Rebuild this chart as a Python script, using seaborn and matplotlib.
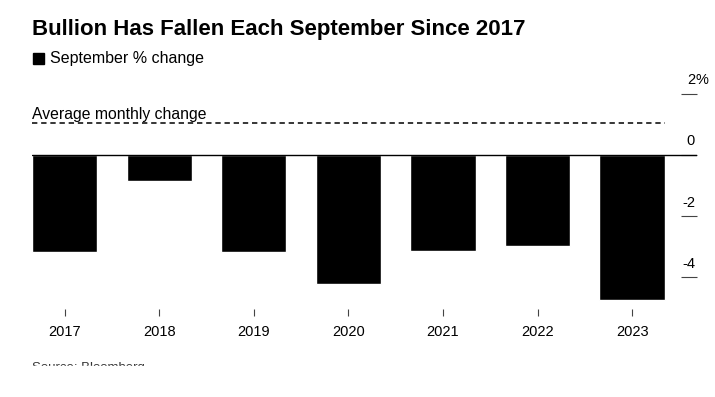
import matplotlib
matplotlib.use("Agg")
import matplotlib.pyplot as plt
import matplotlib.transforms as mtransforms
from matplotlib.patches import Rectangle
import seaborn as sns

# values (% change in September)
years = ["2017", "2018", "2019", "2020", "2021", "2022", "2023"]
sept_change = [-3.18, -0.85, -3.18, -4.21, -3.14, -2.97, -4.75]
avg_monthly_change = 1.05
ytick_values = [2, 0, -2, -4]
ytick_labels = ["2%", "0", "-2", "-4"]

sns.set_style("white")
plt.rcParams["font.family"] = ["Liberation Sans", "DejaVu Sans"]
plt.rcParams["text.color"] = "black"

W, H = 715, 397
fig = plt.figure(figsize=(W / 100, H / 100), dpi=100)
ax = fig.add_axes([32 / W, (H - 309) / H, (697 - 32) / W, (309 - 85) / H])

sns.barplot(x=years, y=sept_change, color="black", width=0.69,
            saturation=1, ax=ax, zorder=2)
ax.set_xlim(-0.345, 6.686)
ax.set_ylim(-5.03, 2.29)

# zero line and average line
ax.axhline(0, color="black", lw=1, zorder=3)
ax.plot([-0.345, 6.345], [avg_monthly_change] * 2, color="black",
        lw=1.1, ls=(0, (3.5, 2.5)), zorder=3)
ax.text(-0.345, avg_monthly_change + 0.04, "Average monthly change",
        fontsize=11.3, ha="left", va="bottom", color="black")

for s in ax.spines.values():
    s.set_visible(False)
ax.set_xlabel("")
ax.set_ylabel("")

# x ticks
ax.tick_params(axis="x", bottom=True, length=5, width=0.8, color="#444444",
               direction="out", pad=6.5, labelsize=10.5, labelcolor="black")

# y ticks on the right, labels above the tick marks
ax.yaxis.tick_right()
ax.set_yticks(ytick_values)
ax.set_yticklabels([])
ax.tick_params(axis="y", right=True, left=False, length=11.5, width=0.8,
               color="#444444", direction="in")
trans = mtransforms.blended_transform_factory(ax.transAxes, ax.transData)
xr = (695 - 32) / (697 - 32)
for v, lab in zip(ytick_values, ytick_labels):
    num = lab.rstrip("%")
    ax.text(xr, v + 0.22, num, transform=trans, ha="right", va="bottom",
            fontsize=10.5, color="black")
    if lab.endswith("%"):
        ax.text(xr, v + 0.22, "%", transform=trans, ha="left", va="bottom",
                fontsize=10.5, color="black")

# title, legend, source
fig.text(32 / W, 1 - 29 / H, "Bullion Has Fallen Each September Since 2017",
         fontsize=16, fontweight="bold", ha="left", va="center", color="black")
fig.patches.append(Rectangle((33 / W, 1 - 64 / H), 11 / W, 11 / H,
                             transform=fig.transFigure, color="black"))
fig.text(50 / W, 1 - 58 / H, "September % change", fontsize=11.5,
         ha="left", va="center", color="black")
fig.text(32 / W, 1 - 371 / H, "Source: Bloomberg", fontsize=9.5,
         ha="left", va="baseline", color="#333333")
# the reference image is cut off just below the source line
fig.patches.append(Rectangle((0, 0), 1, (H - 366) / H, transform=fig.transFigure,
                             color="white", zorder=20))

fig.savefig("out.png", dpi=100)
